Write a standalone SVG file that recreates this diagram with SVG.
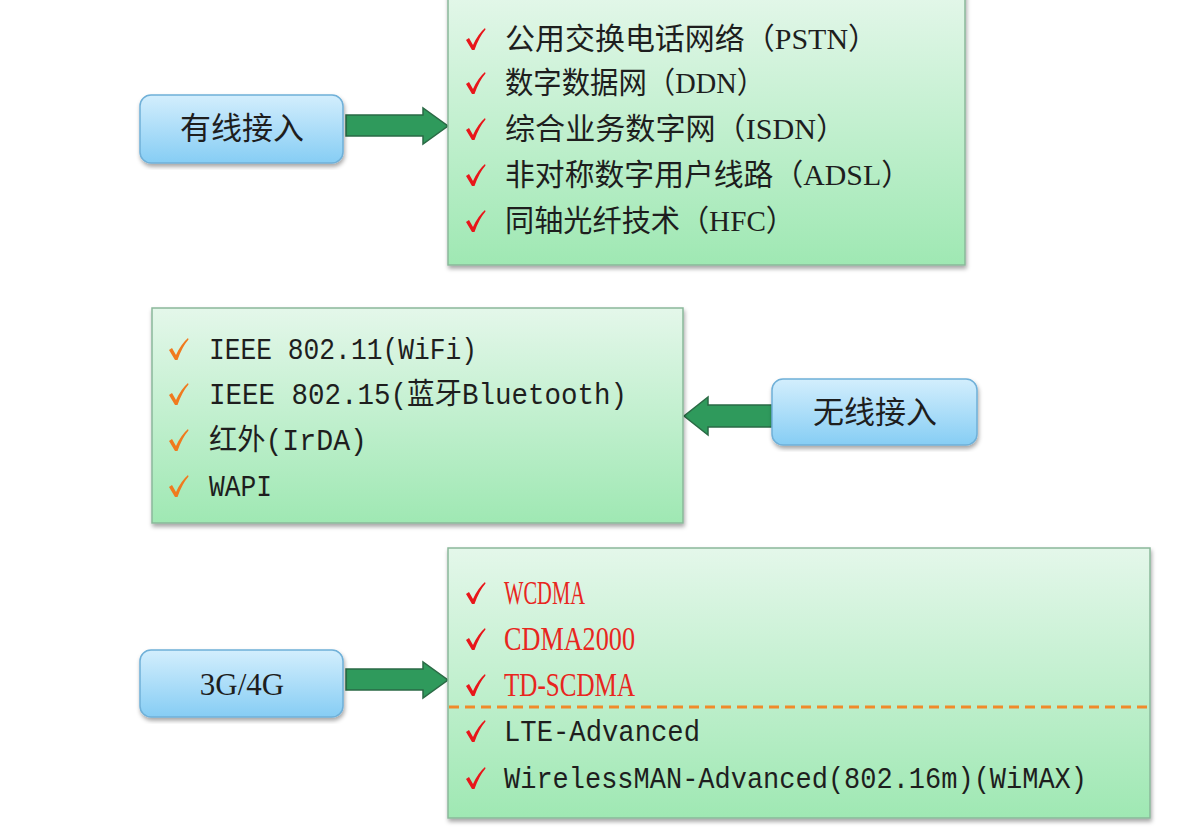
<svg xmlns="http://www.w3.org/2000/svg" width="1177" height="827" viewBox="0 0 1177 827">
<defs>
<linearGradient id="gBox" x1="0" y1="0" x2="0" y2="1">
<stop offset="0" stop-color="#e4f7ea"/>
<stop offset="1" stop-color="#9fe8b3"/>
</linearGradient>
<linearGradient id="gBtn" x1="0" y1="0" x2="0" y2="1">
<stop offset="0" stop-color="#d3eefd"/>
<stop offset="1" stop-color="#86cdf4"/>
</linearGradient>
<filter id="sh" x="-5%" y="-5%" width="112%" height="115%">
<feDropShadow dx="1" dy="3" stdDeviation="2" flood-color="#000" flood-opacity="0.35"/>
</filter>
<path id="chk" d="M0,-2 L3,-4 L7,3 Q12,-8 19,-14 L19.5,-12.5 Q13,-5 8.5,8 L6,8 Z"/>
<style>
.box{fill:url(#gBox);stroke:#8ab89a;stroke-width:1.5;filter:url(#sh)}
.btn{fill:url(#gBtn);stroke:#6fb0d8;stroke-width:1.5;filter:url(#sh)}
.arr{fill:#2f9a5c;stroke:#2a6a45;stroke-width:1.5}
.t1{font-family:"Liberation Serif","Noto Sans CJK SC",serif;font-size:30px;fill:#1e1e1e}
.tm{font-family:"Liberation Mono","Noto Sans CJK SC",monospace;font-size:29px;fill:#1e1e1e}
.tr{font-family:"Liberation Serif","Noto Sans CJK SC",serif;font-size:33px;fill:#e8261e}
.bt{font-family:"Noto Sans CJK SC",sans-serif;font-size:31px;fill:#1e1e1e;text-anchor:middle}
.bt2{font-family:"Liberation Serif",serif;font-size:31px;fill:#1e1e1e;text-anchor:middle}
.cr{fill:#e8161a}
.co{fill:#f07a1e}
</style>
</defs>
<g id="connectors">
<path class="arr" d="M346,115 L423,115 L423,108 L448,126 L423,144 L423,136 L346,136 Z"/>
<path class="arr" d="M772,405 L708,405 L708,397 L684,416 L708,435 L708,427 L772,427 Z"/>
<path class="arr" d="M346,669 L423,669 L423,662 L448,680 L423,698 L423,690 L346,690 Z"/>
</g>
<g id="node-wired">
<rect class="btn" x="140" y="95" width="203" height="68" rx="11"/>
<text class="bt" x="242" y="139">有线接入</text>
</g>
<g id="node-wired-list">
<rect class="box" x="448" y="-10" width="517" height="275"/>
<use href="#chk" class="cr" x="466" y="42"/>
<use href="#chk" class="cr" x="466" y="86"/>
<use href="#chk" class="cr" x="466" y="132"/>
<use href="#chk" class="cr" x="466" y="178"/>
<use href="#chk" class="cr" x="466" y="224"/>
<text class="t1" x="505" y="49" textLength="373" lengthAdjust="spacingAndGlyphs">公用交换电话网络（PSTN）</text>
<text class="t1" x="505" y="93" textLength="260" lengthAdjust="spacingAndGlyphs">数字数据网（DDN）</text>
<text class="t1" x="505" y="139" textLength="341" lengthAdjust="spacingAndGlyphs">综合业务数字网（ISDN）</text>
<text class="t1" x="505" y="185" textLength="406" lengthAdjust="spacingAndGlyphs">非对称数字用户线路（ADSL）</text>
<text class="t1" x="505" y="231" textLength="290" lengthAdjust="spacingAndGlyphs">同轴光纤技术（HFC）</text>
</g>
<g id="node-wireless">
<rect class="btn" x="772" y="379" width="205" height="66" rx="11"/>
<text class="bt" x="875" y="423">无线接入</text>
</g>
<g id="node-wireless-list">
<rect class="box" x="152" y="308" width="531" height="215"/>
<use href="#chk" class="co" x="169" y="352"/>
<use href="#chk" class="co" x="169" y="397"/>
<use href="#chk" class="co" x="169" y="443"/>
<use href="#chk" class="co" x="169" y="489"/>
<text class="tm" x="209" y="359" textLength="268" lengthAdjust="spacingAndGlyphs">IEEE 802.11(WiFi)</text>
<text class="tm" x="209" y="404" textLength="418" lengthAdjust="spacingAndGlyphs">IEEE 802.15(蓝牙Bluetooth)</text>
<text class="tm" x="209" y="450" textLength="158" lengthAdjust="spacingAndGlyphs">红外(IrDA)</text>
<text class="tm" x="209" y="496" textLength="63" lengthAdjust="spacingAndGlyphs">WAPI</text>
</g>
<g id="node-mobile">
<rect class="btn" x="140" y="650" width="203" height="67" rx="11"/>
<text class="bt2" x="242" y="695">3G/4G</text>
</g>
<g id="node-mobile-list">
<rect class="box" x="448" y="548" width="702" height="270"/>
<line x1="449" y1="707" x2="1150" y2="707" stroke="#f08a2a" stroke-width="3" stroke-dasharray="10,6"/>
<use href="#chk" class="cr" x="466" y="596"/>
<use href="#chk" class="cr" x="466" y="642"/>
<use href="#chk" class="cr" x="466" y="688"/>
<use href="#chk" class="cr" x="466" y="734"/>
<use href="#chk" class="cr" x="466" y="781"/>
<text class="tr" x="504" y="604" textLength="81" lengthAdjust="spacingAndGlyphs">WCDMA</text>
<text class="tr" x="504" y="650" textLength="131" lengthAdjust="spacingAndGlyphs">CDMA2000</text>
<text class="tr" x="504" y="696" textLength="131" lengthAdjust="spacingAndGlyphs">TD-SCDMA</text>
<text class="tm" x="504" y="741" textLength="196" lengthAdjust="spacingAndGlyphs">LTE-Advanced</text>
<text class="tm" x="504" y="788" textLength="583" lengthAdjust="spacingAndGlyphs">WirelessMAN-Advanced(802.16m)(WiMAX)</text>
</g>
</svg>
